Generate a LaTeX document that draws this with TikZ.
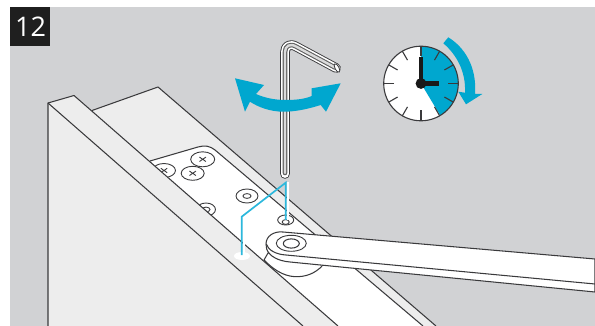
\documentclass[tikz,border=0pt]{standalone}
\usepackage{fontspec}
\setmainfont{Open Sans}
\definecolor{bg}{HTML}{D1D2D4}
\definecolor{door}{HTML}{EDEDED}
\definecolor{ln}{HTML}{3A3A3C}
\definecolor{bl}{HTML}{00A7CF}
\definecolor{cy}{HTML}{2CB8DC}
\tikzset{
  edge/.style={draw=ln,line width=1.05pt,line join=round},
  thin edge/.style={draw=ln,line width=0.9pt},
  blueshape/.style={fill=bl,draw=none},
  tick/.style={draw=ln,line width=1.1pt},
  hand/.style={draw=black!90,line width=4.6pt},
  keypath/.style={line cap=round,line join=round},
}
\begin{document}
\begin{tikzpicture}[x=1pt,y=-1pt]
\useasboundingbox (0,0) rectangle (595,326);
\fill[white] (0,0) rectangle (595,326);
\fill[bg] (10,7) rectangle (595,326);
% label
\fill[black!88] (10,7) rectangle (50,46.5);
\node[text=white,font=\fontsize{27}{27}\selectfont,inner sep=0pt] (num) at (30.5,27) {12};
% door body
\fill[door] (48,103) -- (74,95.5) -- (92,110.5) -- (158,87) -- (436,326) -- (48,326) -- cycle;
% plate
\fill[white] (150,161) -- (198,147) .. controls (205,145) and (210,146) .. (215,150) -- (423,326) -- (338,326) -- cycle;
\begin{scope}
  \clip (150,161) -- (198,147) .. controls (205,145) and (210,146) .. (215,150) -- (423,326) -- (338,326) -- cycle;
  \draw[thin edge] (202.7,159.3) ellipse [x radius=12,y radius=7.5];
  \draw[thin edge] (192.7,173.3) ellipse [x radius=11.5,y radius=7];
  \draw[thin edge] (164,170.5) ellipse [x radius=11.5,y radius=7];
  \draw[thin edge] (247,196) ellipse [x radius=11,y radius=7];
  \draw[thin edge] (247,196) ellipse [x radius=4,y radius=2.4];
  \draw[thin edge] (206,209.5) ellipse [x radius=9.5,y radius=6.5];
  \draw[thin edge] (206,209.5) ellipse [x radius=4,y radius=2.4];
  \draw[thin edge] (285.7,220) ellipse [x radius=8,y radius=5];
  \draw[thin edge] (285.7,222) ellipse [x radius=3.5,y radius=2.4];
  \foreach \c in {(202.7,159.3),(192.7,173.3),(164,170.5)}{
    \draw[thin edge] \c ++(-3.2,-2.2) -- ++(6.4,4.4) \c ++(-3.2,2.2) -- ++(6.4,-4.4);
  }
\end{scope}
% door lines
\draw[edge] (48,326) -- (48,103) -- (74,95.5) -- (338,326);
\draw[edge] (48,103) -- (303,326);
\draw[edge] (92,110.5) -- (158,87) -- (436,326);
\draw[edge] (150,161) -- (198,147) .. controls (205,145) and (210,146) .. (215,150) -- (423,326);
% white hole and blue guide
\fill[white] (242,256) ellipse [x radius=8,y radius=4];
\draw[white,line width=1.8pt] (244,256) -- (244,218) (288,182) -- (288,220);
\draw[cy,line width=1.7pt,line join=miter] (241.7,255) -- (241.7,216.7) -- (285.7,182.7) -- (285.7,220);
% arm: body below
\filldraw[fill=white,draw=ln,line width=1.05pt] (264,260) -- (268,253) -- (320,262) -- (323,265) .. controls (315,274) and (305,277) .. (295,276.7) .. controls (282,276) and (272,268) .. (264,260) -- cycle;
% arm side and top
\filldraw[fill=white,draw=ln,line width=1.05pt] (595,259) -- (283,232) .. controls (274,231) and (266,236) .. (266,244) -- (266.7,249) .. controls (269,256) and (278,261) .. (290,262) -- (595,292) -- cycle;
\draw[edge] (266.3,244) .. controls (268,250) and (276,254.5) .. (286,255) -- (595,284);
\draw[thin edge] (291.3,243.3) ellipse [x radius=15,y radius=8];
\draw[edge] (291.3,243.5) ellipse [x radius=8,y radius=4.6];
% hex key
\draw[ln,line width=9.6pt,keypath] (285,174) -- (285,52) .. controls (285,46) and (290,43) .. (296,46.5) -- (336,68);
\draw[white,line width=7.8pt,keypath] (285,174) -- (285,52) .. controls (285,46) and (290,43) .. (296,46.5) -- (336,68);
\draw[black!62,line width=4.6pt,keypath] (285,173) -- (285,52) .. controls (285,46) and (290,43) .. (296,46.5) -- (335,67.5);
\draw[black!14,line width=2.4pt,keypath] (285,173) -- (285,52) .. controls (285,46) and (290,43) .. (296,46.5) -- (335,67.5);
\filldraw[fill=white,draw=ln,line width=0.8pt,rotate around={28:(337,68)}] (337,68) ellipse [x radius=2,y radius=4.6];
% double arrow
\fill[blueshape] (235,78.3) -- (264,85) -- (256,94) .. controls (265,98) and (275,100) .. (286,100) .. controls (296,100) and (305,99) .. (311.7,96) -- (311.7,88.3) -- (340.7,83.3) -- (326,111.7) -- (320.7,105) .. controls (308,109) and (296,111.7) .. (283.3,111.7) .. controls (270,111.7) and (258,107) .. (250,101.7) -- (245,111.7) -- cycle;
% clock
\coordinate (cc) at (421,83.5);
\fill[white] (cc) circle [radius=37.3];
\fill[bl] (cc) -- ++(0,-37.3) arc [start angle=90,end angle=-59,x radius=37.3,y radius=-37.3] -- cycle;
\draw[ln,line width=1.1pt] (cc) circle [radius=37.3];
\foreach \a in {0,30,...,330}{
  \draw[tick] (cc) ++(\a:27) -- ++(\a:10.3);
}
\draw[hand] (cc) -- ++(0,-26.5);
\draw[hand] (cc) -- ++(17.5,0);
\fill[black!90] (cc) circle [radius=5.4];
% clock arrow
\fill[blueshape] (443.3,43.3) -- (448.3,37.3) .. controls (464,47) and (477,66) .. (475,94) -- (482.3,94) -- (466,104.3) -- (458.3,91.7) -- (465,92.7) .. controls (466,72) and (457,55) .. cycle;
\end{tikzpicture}
\end{document}
